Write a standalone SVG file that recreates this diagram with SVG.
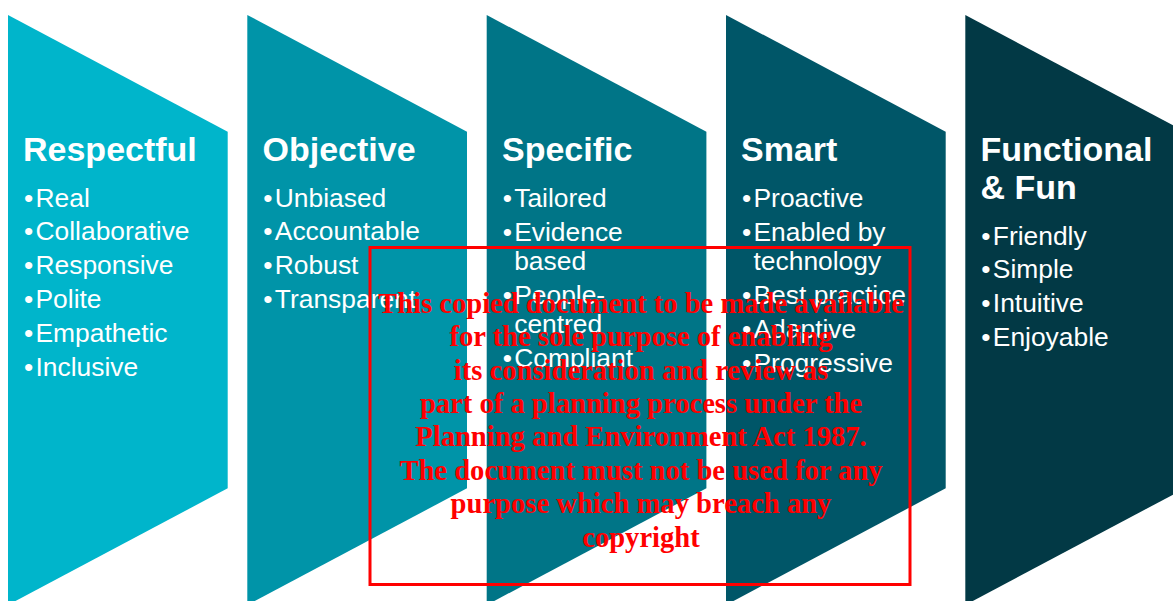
<svg xmlns="http://www.w3.org/2000/svg" width="1173" height="601" viewBox="0 0 1173 601">
<style>
.t{font-family:"Liberation Sans",Arial,sans-serif;font-weight:bold;font-size:34px;fill:#fff}
.b{font-family:"Liberation Sans",Arial,sans-serif;font-size:26.4px;fill:#fff}
.w{font-family:"Liberation Serif","Times New Roman",serif;font-weight:bold;font-size:28.6px;fill:#ff0000;text-anchor:middle}
</style>
<defs>
<path id="chev" d="M0,15 L219.7,131.7 L219.7,488.3 L0,605 Z"/>
</defs>
<rect width="1173" height="601" fill="#fff"/>
<g id="respectful">
<use href="#chev" x="8" fill="#00B5CB"/>
<text class="t" x="23" y="161">Respectful</text>
<g class="b">
<text x="24" y="206.5">•</text><text x="35.5" y="206.5">Real</text>
<text x="24" y="240.3">•</text><text x="35.5" y="240.3">Collaborative</text>
<text x="24" y="274.1">•</text><text x="35.5" y="274.1">Responsive</text>
<text x="24" y="307.9">•</text><text x="35.5" y="307.9">Polite</text>
<text x="24" y="341.7">•</text><text x="35.5" y="341.7">Empathetic</text>
<text x="24" y="375.5">•</text><text x="35.5" y="375.5">Inclusive</text>
</g>
</g>
<g id="objective">
<use href="#chev" x="247.3" fill="#0094A8"/>
<text class="t" x="262.5" y="161">Objective</text>
<g class="b">
<text x="263.3" y="206.5">•</text><text x="274.8" y="206.5">Unbiased</text>
<text x="263.3" y="240.3">•</text><text x="274.8" y="240.3">Accountable</text>
<text x="263.3" y="274.1">•</text><text x="274.8" y="274.1">Robust</text>
<text x="263.3" y="307.9">•</text><text x="274.8" y="307.9">Transparent</text>
</g>
</g>
<g id="specific">
<use href="#chev" x="486.7" fill="#007587"/>
<text class="t" x="502" y="161">Specific</text>
<g class="b">
<text x="502.7" y="206.5">•</text><text x="514.2" y="206.5">Tailored</text>
<text x="502.7" y="240.5">•</text><text x="514.2" y="240.5">Evidence</text>
<text x="514.2" y="269.5">based</text>
<text x="502.7" y="303.5">•</text><text x="514.2" y="303.5">People-</text>
<text x="514.2" y="332.5">centred</text>
<text x="502.7" y="366.5">•</text><text x="514.2" y="366.5">Compliant</text>
</g>
</g>
<g id="smart">
<use href="#chev" x="726" fill="#005668"/>
<text class="t" x="741" y="161">Smart</text>
<g class="b">
<text x="742" y="206.5">•</text><text x="753.5" y="206.5">Proactive</text>
<text x="742" y="240.5">•</text><text x="753.5" y="240.5">Enabled by</text>
<text x="753.5" y="269.5">technology</text>
<text x="742" y="303.5">•</text><text x="753.5" y="303.5">Best practice</text>
<text x="742" y="337.5">•</text><text x="753.5" y="337.5">Adaptive</text>
<text x="742" y="371.5">•</text><text x="753.5" y="371.5">Progressive</text>
</g>
</g>
<g id="functional">
<use href="#chev" x="965.3" fill="#023945"/>
<text class="t" x="980.5" y="161">Functional</text>
<text class="t" x="980.5" y="199">&amp; Fun</text>
<g class="b">
<text x="981.3" y="244.5">•</text><text x="992.8" y="244.5">Friendly</text>
<text x="981.3" y="278">•</text><text x="992.8" y="278">Simple</text>
<text x="981.3" y="311.7">•</text><text x="992.8" y="311.7">Intuitive</text>
<text x="981.3" y="345.5">•</text><text x="992.8" y="345.5">Enjoyable</text>
</g>
</g>
<g id="notice">
<rect x="370" y="247.5" width="540" height="337" fill="none" stroke="#ff0000" stroke-width="3"/>
<text class="w" x="641" y="312.7">This copied document to be made available</text>
<text class="w" x="641" y="346.1">for the sole purpose of enabling</text>
<text class="w" x="641" y="379.5">its consideration and review as</text>
<text class="w" x="641" y="412.9">part of a planning process under the</text>
<text class="w" x="641" y="446.3">Planning and Environment Act 1987.</text>
<text class="w" x="641" y="479.7">The document must not be used for any</text>
<text class="w" x="641" y="513.1">purpose which may breach any</text>
<text class="w" x="641" y="546.5">copyright</text>
</g>
</svg>
